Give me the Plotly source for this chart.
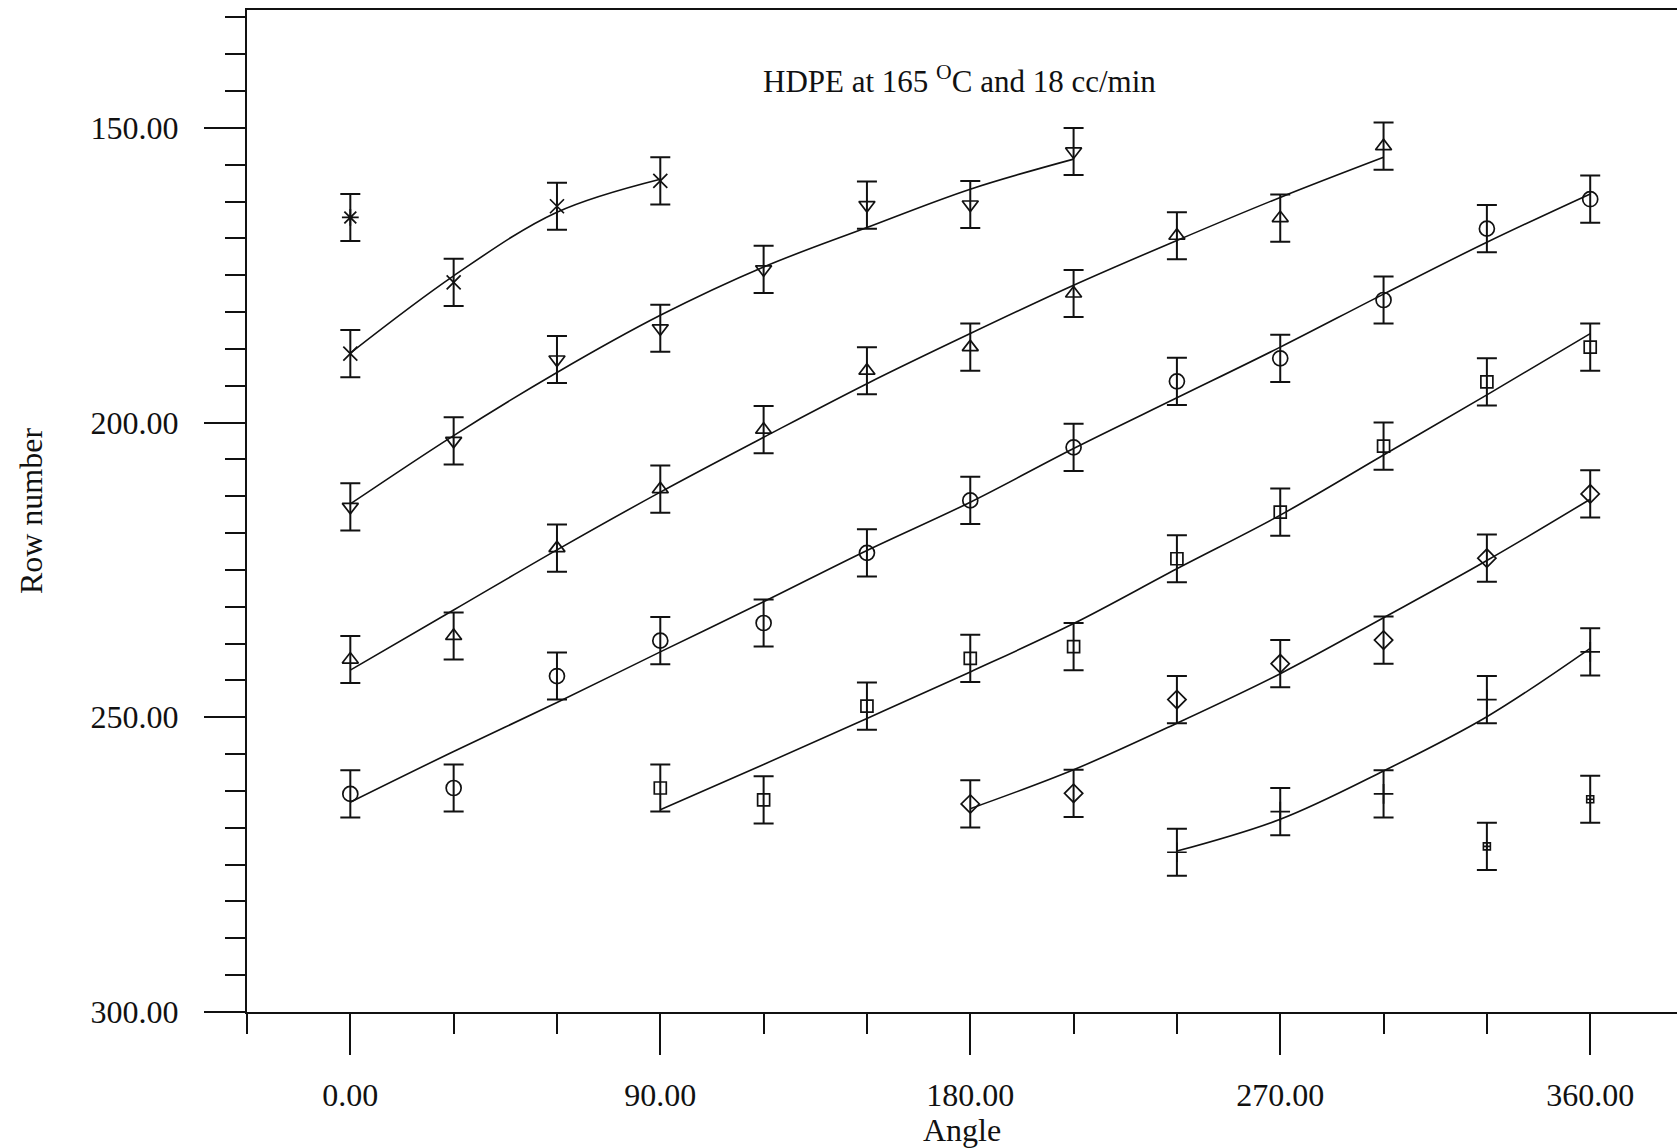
import plotly.graph_objects as go

# ---------------- data ----------------
ERR = 4.0  # half-length of every error bar (row units)

x_cross = [0, 30, 60, 90]
y_cross = [188.3, 176.2, 163.3, 159.0]
fit_cross = [188.2, 175.1, 164.3, 158.7]

x_tdown = [0, 30, 60, 90, 120, 150, 180, 210]
y_tdown = [214.3, 203.1, 189.3, 184.0, 174.0, 163.1, 163.0, 154.0]
fit_tdown = [213.8, 202.2, 191.5, 181.8, 173.6, 166.9, 160.4, 155.3]

x_tup = [0, 30, 60, 90, 120, 150, 180, 210, 240, 270, 300]
y_tup = [240.2, 236.2, 221.3, 211.3, 201.2, 191.2, 187.2, 178.1, 168.3, 165.3, 153.1]
fit_tup = [242.0, 231.8, 221.6, 211.8, 202.5, 193.4, 184.9, 176.7, 169.1, 161.8, 155.0]

x_circ = [0, 30, 60, 90, 120, 150, 180, 210, 240, 270, 300, 330, 360]
y_circ = [263.0, 262.0, 243.0, 237.0, 234.0, 222.1, 213.2, 204.2, 193.0, 189.1, 179.2, 167.1, 162.1]
fit_circ = [264.4, 255.8, 247.5, 238.9, 230.4, 221.7, 213.5, 204.4, 195.8, 187.2, 178.2, 169.4, 161.2]

x_sq = [90, 120, 150, 180, 210, 240, 270, 300, 330, 360]
y_sq = [262.0, 264.0, 248.1, 240.0, 238.0, 223.1, 215.2, 204.0, 193.1, 187.2]
fit_sq = [265.7, 258.0, 250.2, 242.3, 234.1, 224.8, 215.7, 205.5, 195.3, 184.9]

x_dia = [180, 210, 240, 270, 300, 330, 360]
y_dia = [264.7, 262.9, 247.0, 240.9, 236.9, 223.0, 212.1]
fit_dia = [265.5, 258.9, 251.0, 242.6, 233.1, 223.4, 213.0]

x_plus = [240, 270, 300, 330, 360]
y_plus = [272.9, 266.0, 263.0, 247.0, 238.9]
fit_plus = [272.7, 267.3, 259.1, 249.9, 238.3]

x_star = [0]
y_star = [165.2]

x_small = [330, 360]
y_small = [271.9, 263.9]

x_tickvals = [0, 90, 180, 270, 360]
x_ticklabels = ["0.00", "90.00", "180.00", "270.00", "360.00"]
y_tickvals = [150, 200, 250, 300]
y_ticklabels = ["150.00", "200.00", "250.00", "300.00"]

TITLE = "HDPE at 165 <sup>O</sup>C and 18 cc/min"
X_TITLE = "Angle"
Y_TITLE = "Row number"

# ---------------- figure ----------------
FONT = "Liberation Serif, Times New Roman, serif"
INK = "#111111"

fig = go.Figure()

series = [
    (x_cross, y_cross, fit_cross, "x-thin-open", 14),
    (x_tdown, y_tdown, fit_tdown, "triangle-down-open", 14),
    (x_tup, y_tup, fit_tup, "triangle-up-open", 14),
    (x_circ, y_circ, fit_circ, "circle-open", 15),
    (x_sq, y_sq, fit_sq, "square-open", 12),
    (x_dia, y_dia, fit_dia, "diamond-open", 14),
    (x_plus, y_plus, fit_plus, "cross-thin-open", 14),
]

for xs, ys, fit, sym, size in series:
    fig.add_trace(go.Scatter(
        x=xs, y=fit, mode="lines",
        line=dict(color=INK, width=1.6, shape="spline", smoothing=1.0),
        hoverinfo="skip", showlegend=False))

for xs, ys, fit, sym, size in series:
    fig.add_trace(go.Scatter(
        x=xs, y=ys, mode="markers",
        marker=dict(symbol=sym, size=size, color=INK, line=dict(width=1.7, color=INK)),
        error_y=dict(type="constant", value=ERR, color=INK, thickness=2, width=10),
        showlegend=False))

fig.add_trace(go.Scatter(
    x=x_star, y=y_star, mode="markers",
    marker=dict(symbol="asterisk-open", size=14, color=INK, line=dict(width=1.8, color=INK)),
    error_y=dict(type="constant", value=ERR, color=INK, thickness=2, width=10),
    showlegend=False))

fig.add_trace(go.Scatter(
    x=x_small, y=y_small, mode="markers",
    marker=dict(symbol="square-cross-open", size=7, color=INK, line=dict(width=1.6, color=INK)),
    error_y=dict(type="constant", value=ERR, color=INK, thickness=2, width=10),
    showlegend=False))

fig.add_annotation(
    text=TITLE, xref="paper", yref="paper", x=0.4986, y=0.931,
    xanchor="center", yanchor="middle", showarrow=False,
    font=dict(family=FONT, size=31, color=INK))

fig.update_layout(
    width=1677, height=1148,
    margin=dict(l=247, r=0, t=10, b=136, autoexpand=False),
    paper_bgcolor="white", plot_bgcolor="white",
    font=dict(family=FONT, size=32, color=INK),
    xaxis=dict(
        range=[-30, 385.2], showgrid=False, zeroline=False,
        showline=True, linecolor=INK, linewidth=2, mirror=True,
        ticks="outside", ticklen=41, tickwidth=2, tickcolor=INK,
        tickvals=x_tickvals, ticktext=x_ticklabels,
        ticklabelstandoff=13,
        minor=dict(dtick=30, tick0=0, ticks="outside", ticklen=20, tickwidth=2,
                   tickcolor=INK, showgrid=False),
        title=dict(text=X_TITLE, standoff=2, font=dict(family=FONT, size=32, color=INK)),
        tickfont=dict(family=FONT, size=32, color=INK),
    ),
    yaxis=dict(
        range=[300, 130], showgrid=False, zeroline=False,
        showline=True, linecolor=INK, linewidth=2,
        ticks="outside", ticklen=41, tickwidth=2, tickcolor=INK,
        tickvals=y_tickvals, ticktext=y_ticklabels,
        ticklabelstandoff=19,
        minor=dict(dtick=6.25, tick0=0, ticks="outside", ticklen=20, tickwidth=2,
                   tickcolor=INK, showgrid=False),
        title=dict(text=Y_TITLE, standoff=38, font=dict(family=FONT, size=32, color=INK)),
        tickfont=dict(family=FONT, size=32, color=INK),
    ),
)

fig.write_html("out.html")
